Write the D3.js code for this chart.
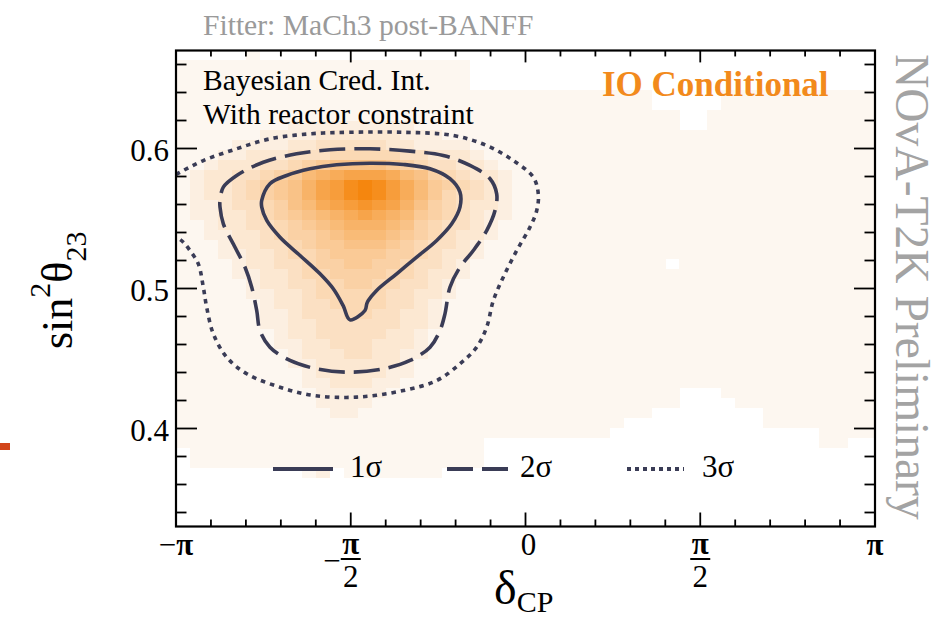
<!DOCTYPE html>
<html>
<head>
<meta charset="utf-8">
<script src="https://cdn.jsdelivr.net/npm/d3@7"></script>
<style>
  body { margin: 0; background: #ffffff; }
  text { font-family: "Liberation Serif", "Times New Roman", serif; }
</style>
</head>
<body>
<svg id="chart" width="943" height="621"></svg>
<script>
// ---- posterior histogram binning ----
const deltaBins = 50;            // δCP bins across [-π, π]
const sinBins = 48;              // sin²θ23 bins across sinRange
const sinRange = [0.33, 0.67];

// lowest / highest populated sin²θ23 bin in each δCP column
const supportLow  = [8,6,6,6,6,6,6,6,6,5,5,6,5,5,5,5,5,5,5,6,6,6,9,9,9,9,9,9,9,9,9,10,11,11,12,12,14,14,14,13,12,12,10,10,10,10,8,8,9,9];
const supportHigh = [46,46,46,46,46,47,46,46,46,46,46,46,46,46,46,46,46,46,46,46,46,43,43,43,43,43,43,43,43,43,43,43,43,43,41,41,39,39,41,43,43,43,43,43,43,43,43,43,43,43];
const emptyBins = [[35, 26]];

// posterior density level (hex 0-f) per bin, rows from sin² bin 44 downwards, columns from δCP bin 0
const densityTopBin = 44;
const densityRows = [
  "0000000000000000000000000000",
  "0000000000000000000000000000",
  "0000000000000000000000000000",
  "0000000000000000000000000000",
  "0000000011111111100000000000",
  "0000001111222222111000000000",
  "0000111122333332211110000000",
  "0001122233344444332221000000",
  "0012223345677776543322100000",
  "01223345689abbba875432210000",
  "0122345679bcefeca86543210000",
  "0122345679bcefeca86433210000",
  "0112334578abcdcb975432210000",
  "011223456789aba9865432110000",
  "0012233456789998754332100000",
  "0011223455678887654322100000",
  "0001223345667776543321000000",
  "0001122344566665543221000000",
  "0000122334556655433210000000",
  "0000112234455554432210000000",
  "0000012233445544332100000000",
  "0000011223444443322100000000",
  "0000001223344443321000000000",
  "0000001123334433221000000000",
  "0000001122333333221000000000",
  "0000000122333332210000000000",
  "0000000112233322210000000000",
  "0000000012223322110000000000",
  "0000000011222222100000000000",
  "0000000001222221100000000000",
  "0000000001122211000000000000",
  "0000000000111110000000000000",
  "0000000000111100000000000000",
  "0000000000011000000000000000",
  "0000000000000000000000000000",
  "0000000000000000000000000000",
  "0000000000000000000000000000",
  "0000000000000000000000000000",
  "0000000000000000000000000000",
  "0000000000100000000000000000"
];

// credible-interval contours, [δCP (rad), sin²θ23]
const contour1sigma = [
  [-2.371,0.5629],[-2.297,0.5748],[-2.147,0.5807],[-1.937,0.5855],[-1.697,0.5884],
  [-1.398,0.5895],[-1.098,0.5886],[-0.858,0.5855],[-0.679,0.5784],[-0.589,0.5688],
  [-0.589,0.5581],[-0.663,0.5462],[-0.798,0.5343],[-0.978,0.5224],[-1.158,0.5105],
  [-1.338,0.4986],[-1.413,0.4914],[-1.427,0.4891],[-1.443,0.4843],[-1.578,0.4776],
  [-1.640,0.4879],[-1.728,0.4998],[-1.847,0.5105],[-2.027,0.5236],[-2.207,0.5366],
  [-2.326,0.5486],[-2.371,0.5581]
];
const contour2sigma = [
  [-2.746,0.5629],[-2.716,0.5724],[-2.596,0.5807],[-2.357,0.5902],[-2.057,0.5962],
  [-1.757,0.5991],[-1.398,0.5998],[-1.038,0.5981],[-0.739,0.5950],[-0.499,0.5879],
  [-0.319,0.5784],[-0.259,0.5676],[-0.274,0.5557],[-0.349,0.5414],[-0.469,0.5271],
  [-0.589,0.5152],[-0.679,0.5009],[-0.724,0.4819],[-0.769,0.4700],[-0.858,0.4581],
  [-1.038,0.4486],[-1.278,0.4426],[-1.578,0.4402],[-1.877,0.4426],[-2.117,0.4486],
  [-2.297,0.4581],[-2.387,0.4700],[-2.416,0.4843],[-2.461,0.5009],[-2.521,0.5152],
  [-2.611,0.5295],[-2.716,0.5462],[-2.746,0.5581]
];
const contour3sigma = [
  [-3.1416,0.5814],[-3.076,0.5843],[-2.896,0.5914],[-2.596,0.5998],[-2.297,0.6069],
  [-1.937,0.6105],[-1.578,0.6116],[-1.098,0.6116],[-0.649,0.6093],[-0.349,0.6021],
  [-0.110,0.5914],[0.070,0.5795],[0.115,0.5676],[0.101,0.5557],[0.040,0.5438],
  [-0.079,0.5271],[-0.200,0.5081],[-0.289,0.4914],[-0.349,0.4724],[-0.439,0.4581],
  [-0.589,0.4462],[-0.798,0.4343],[-1.098,0.4271],[-1.517,0.4224],[-1.907,0.4236],
  [-2.207,0.4295],[-2.506,0.4391],[-2.686,0.4509],[-2.806,0.4676],[-2.866,0.4866],
  [-2.896,0.5009],[-2.941,0.5176],[-3.016,0.5271],[-3.076,0.5331],[-3.1416,0.5371]
];

// axes
const xTickValues = [-Math.PI, -Math.PI / 2, 0, Math.PI / 2, Math.PI];
const xTickLabels = ["−π", "−π/2", "0", "π/2", "π"];
const yTickValues = [0.4, 0.5, 0.6];
const yTickLabels = ["0.4", "0.5", "0.6"];
const legendLabels = ["1σ", "2σ", "3σ"];

// ---- drawing ----
const svg = d3.select("#chart");
const plot = { left: 176, right: 875, top: 50.5, bottom: 526.5 };
const x = d3.scaleLinear().domain([-Math.PI, Math.PI]).range([plot.left, plot.right]);
const y = d3.scaleLinear().domain(sinRange).range([plot.bottom, plot.top]);
const color = d3.scaleLinear().domain([0, 15]).range(["#fdf7f0", "#f5860e"]);
const ink = "#3a3c56";

svg.append("defs").append("clipPath").attr("id", "plotClip")
  .append("rect")
  .attr("x", plot.left).attr("y", plot.top)
  .attr("width", plot.right - plot.left).attr("height", plot.bottom - plot.top);

// histogram cells
const dBin = 2 * Math.PI / deltaBins;
const sBin = (sinRange[1] - sinRange[0]) / sinBins;
const cells = [];
for (let i = 0; i < deltaBins; i++) {
  for (let j = supportLow[i]; j <= supportHigh[i]; j++) {
    if (emptyBins.some(b => b[0] === i && b[1] === j)) continue;
    const k = densityTopBin - j;
    const row = k >= 0 && k < densityRows.length ? densityRows[k] : "";
    const lvl = parseInt(row[i] || "0", 16);
    cells.push({ i, j, lvl });
  }
}
svg.append("g")
  .attr("clip-path", "url(#plotClip)")
  .attr("shape-rendering", "crispEdges")
  .selectAll("rect").data(cells).join("rect")
  .attr("x", d => x(-Math.PI + d.i * dBin))
  .attr("width", d => x(-Math.PI + (d.i + 1) * dBin) - x(-Math.PI + d.i * dBin) + 0.6)
  .attr("y", d => y(sinRange[0] + (d.j + 1) * sBin))
  .attr("height", d => y(sinRange[0] + d.j * sBin) - y(sinRange[0] + (d.j + 1) * sBin) + 0.6)
  .attr("fill", d => color(d.lvl));

// contours
const closedLine = d3.line().x(d => x(d[0])).y(d => y(d[1])).curve(d3.curveCatmullRomClosed.alpha(0.5));
const openLine = d3.line().x(d => x(d[0])).y(d => y(d[1])).curve(d3.curveCatmullRom.alpha(0.5));
const gC = svg.append("g").attr("clip-path", "url(#plotClip)").attr("fill", "none").attr("stroke", ink);
gC.append("path").attr("d", openLine(contour3sigma)).attr("stroke-width", 3.6).attr("stroke-dasharray", "4.5,5");
gC.append("path").attr("d", closedLine(contour2sigma)).attr("stroke-width", 3.6).attr("stroke-dasharray", "26,9");
gC.append("path").attr("d", closedLine(contour1sigma)).attr("stroke-width", 3.6).attr("stroke-linejoin", "round");

// ticks on all four sides
const xMinor = d3.range(0, 21).map(k => -Math.PI + k * Math.PI / 10);
const yMinor = d3.range(0, 17).map(k => +(0.34 + k * 0.02).toFixed(2));
const isXMajor = v => xTickValues.some(t => Math.abs(t - v) < 1e-6);
const isYMajor = v => yTickValues.some(t => Math.abs(t - v) < 1e-6);
const gT = svg.append("g").attr("stroke", "#000").attr("stroke-width", 1.8);
xMinor.forEach(v => {
  const len = isXMajor(v) ? 14 : 7;
  gT.append("line").attr("x1", x(v)).attr("x2", x(v)).attr("y1", plot.bottom).attr("y2", plot.bottom - len);
  gT.append("line").attr("x1", x(v)).attr("x2", x(v)).attr("y1", plot.top).attr("y2", plot.top + len * 0.85);
});
yMinor.forEach(v => {
  const len = isYMajor(v) ? 21 : 10.5;
  gT.append("line").attr("y1", y(v)).attr("y2", y(v)).attr("x1", plot.left).attr("x2", plot.left + len);
  gT.append("line").attr("y1", y(v)).attr("y2", y(v)).attr("x1", plot.right).attr("x2", plot.right - len);
});
svg.append("rect")
  .attr("x", plot.left).attr("y", plot.top)
  .attr("width", plot.right - plot.left).attr("height", plot.bottom - plot.top)
  .attr("fill", "none").attr("stroke", "#000").attr("stroke-width", 2.2);

// y tick labels
svg.append("g").selectAll("text").data(yTickValues).join("text")
  .attr("x", 169).attr("y", d => y(d) + 12)
  .attr("text-anchor", "end").attr("font-size", 31).attr("fill", "#000")
  .text((d, i) => yTickLabels[i]);

// x tick labels (fractions stacked); π drawn heavier like a symbol glyph
const gX = svg.append("g").attr("fill", "#000");
const addLabel = (px, py, str, anchor) => {
  const t = gX.append("text").attr("x", px).attr("y", py).attr("text-anchor", anchor).attr("font-size", 31);
  for (const ch of str) {
    t.append("tspan").attr("font-weight", ch === "π" ? "bold" : null).text(ch);
  }
  return t;
};
xTickValues.forEach((v, i) => {
  const lab = xTickLabels[i];
  const cx = x(v);
  if (lab.includes("/")) {
    let s = lab, sign = "";
    if (s.startsWith("−")) { sign = "−"; s = s.slice(1); }
    const [num, den] = s.split("/");
    addLabel(cx, 554, num, "middle");
    gX.append("line").attr("x1", cx - 10).attr("x2", cx + 10).attr("y1", 559).attr("y2", 559)
      .attr("stroke", "#000").attr("stroke-width", 2);
    addLabel(cx, 587, den, "middle");
    if (sign) addLabel(cx - 10, 571, sign, "end");
  } else {
    addLabel(cx + (v === 0 ? 3 : 0), 555, lab, "middle");
  }
});

// axis titles
const yt = svg.append("text").attr("transform", "translate(72,349) rotate(-90)").attr("fill", "#000");
yt.append("tspan").attr("font-size", 44).text("sin");
yt.append("tspan").attr("font-size", 30).attr("dy", -22).text("2");
yt.append("tspan").attr("font-size", 44).attr("dy", 22).text("θ");
yt.append("tspan").attr("font-size", 30).attr("dy", 14).text("23");

const xt = svg.append("text").attr("x", 494).attr("y", 604).attr("fill", "#000");
xt.append("tspan").attr("font-size", 48).text("δ");
xt.append("tspan").attr("font-size", 30).attr("dy", 8).text("CP");

// annotations
svg.append("text").attr("x", 203).attr("y", 35).attr("font-size", 29.6).attr("fill", "#9a9a9a")
  .text("Fitter: MaCh3 post-BANFF");
svg.append("text").attr("x", 203).attr("y", 90).attr("font-size", 29.5).attr("fill", "#000")
  .text("Bayesian Cred. Int.");
svg.append("text").attr("x", 203).attr("y", 124).attr("font-size", 29.5).attr("fill", "#000")
  .text("With reactor constraint");
svg.append("text").attr("x", 602).attr("y", 96).attr("font-size", 35).attr("font-weight", "bold")
  .attr("fill", "#f28a1c").text("IO Conditional");
svg.append("text").attr("transform", "translate(896,54) rotate(90)").attr("font-size", 47.5)
  .attr("fill", "#a3a3a3").text("NOvA-T2K Preliminary");

// legend
const legendStyles = [
  { x1: 273, x2: 333, tx: 350, dash: null },
  { x1: 447, x2: 508, tx: 520, dash: "26,9" },
  { x1: 627, x2: 684, tx: 702, dash: "4,4" }
];
const gL = svg.append("g");
legendLabels.forEach((lab, i) => {
  const st = legendStyles[i];
  gL.append("line").attr("x1", st.x1).attr("x2", st.x2).attr("y1", 469).attr("y2", 469)
    .attr("stroke", ink).attr("stroke-width", 3.8)
    .attr("stroke-dasharray", st.dash);
  gL.append("text").attr("x", st.tx).attr("y", 477).attr("font-size", 31).attr("fill", "#000").text(lab);
});

// edge marker at far left
svg.append("rect").attr("x", 0).attr("y", 443).attr("width", 10).attr("height", 7).attr("fill", "#d2451a");
</script>
</body>
</html>
